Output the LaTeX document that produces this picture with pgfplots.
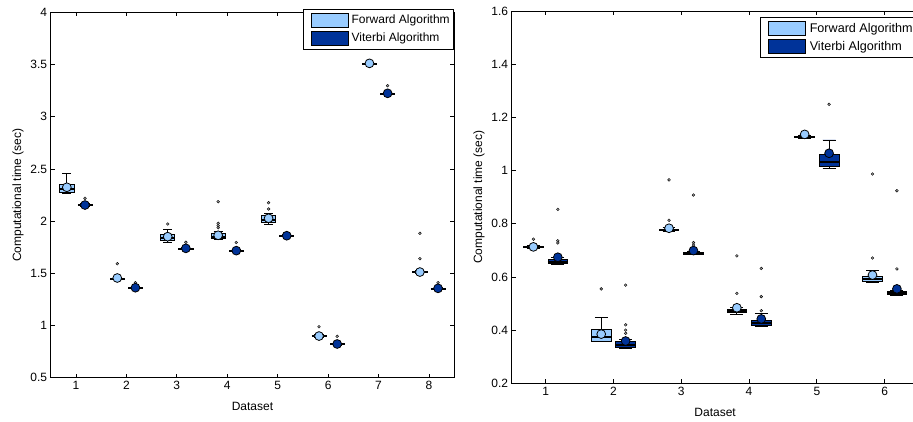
\documentclass[border=0pt]{standalone}
\usepackage{fontspec}
\setmainfont{Liberation Sans}
\usepackage{pgfplots}
\pgfplotsset{compat=1.18}
\usepgfplotslibrary{statistics}

\definecolor{fwd}{RGB}{153,204,255}
\definecolor{vit}{RGB}{0,51,153}
\definecolor{outc}{RGB}{160,160,160}

% #1 position, #2..#6 lower whisker, q1, median, q3, upper whisker, #7 fill
\newcommand{\bx}[7]{%
  \addplot[forget plot, fill=#7, boxplot prepared={draw direction=y,
    draw position=#1,
    lower whisker=#2, lower quartile=#3, median=#4,
    upper quartile=#5, upper whisker=#6}] coordinates {};}

\pgfplotsset{
  hmm/.style={
    scale only axis, anchor=south west,
    font=\fontsize{12}{14}\selectfont,
    /pgf/number format/assume math mode=true,
    axis line style={line width=1pt},
    tick style={line width=0.8pt, black},
    tick align=inside, major tick length=4pt,
    xlabel={Dataset}, ylabel={Computational time (sec)},
    xlabel style={yshift=-6pt},
    boxplot/draw direction=y,
    boxplot/every box/.style={draw=black, line width=0.8pt},
    boxplot/every median/.style={draw=black, line width=1.8pt},
    boxplot/every whisker/.style={draw=black, line width=0.8pt},
    legend cell align=left,
    legend style={anchor=north east, draw=black, line width=0.8pt,
      inner xsep=1.5pt, inner ysep=3pt, row sep=3pt,
      nodes={inner xsep=2.6pt, inner ysep=2pt},
      font=\fontsize{12}{14}\selectfont},
  },
  meanF/.style={forget plot, only marks, mark=*, mark size=4.4pt,
    mark options={fill=fwd, draw=black, line width=0.8pt}},
  meanV/.style={forget plot, only marks, mark=*, mark size=4.4pt,
    mark options={fill=vit, draw=black, line width=0.8pt}},
  outl/.style={forget plot, only marks, mark=*, mark size=1.4pt,
    mark options={fill=outc, draw=none}},
  legF/.style={legend image code/.code={\path (0pt,-7pt) (0pt,7pt);
    \draw[fill=fwd, draw=black, line width=0.8pt] (5.8pt,-7.15pt) rectangle (43.1pt,7.15pt);}},
  legV/.style={legend image code/.code={\path (0pt,-7pt) (0pt,7pt);
    \draw[fill=vit, draw=black, line width=0.8pt] (5.8pt,-7.15pt) rectangle (43.1pt,7.15pt);}},
}

\begin{document}
\begin{tikzpicture}
\useasboundingbox (0,0) rectangle (913pt,421pt);
\clip (0,0) rectangle (913pt,421pt);

% ---------- left panel ----------
\begin{axis}[hmm,
    at={(50.7pt,43.3pt)}, width=403.5pt, height=365.4pt,
    xmin=0.5, xmax=8.5, ymin=0.5, ymax=4,
    xtick={1,2,3,4,5,6,7,8},
    ytick={0.5,1,1.5,2,2.5,3,3.5,4},
    boxplot/box extend=0.28, boxplot/whisker extend=0.18,
    legend style={at={(1,1)}, yshift=3pt},
]
% Forward
\bx{0.82}{2.262}{2.279}{2.305}{2.355}{2.458}{fwd}
\bx{1.82}{1.440}{1.445}{1.450}{1.455}{1.462}{fwd}
\bx{2.82}{1.800}{1.812}{1.840}{1.876}{1.924}{fwd}
\bx{3.82}{1.825}{1.835}{1.850}{1.878}{1.905}{fwd}
\bx{4.82}{1.970}{1.985}{2.010}{2.050}{2.070}{fwd}
\bx{5.82}{0.890}{0.893}{0.897}{0.902}{0.910}{fwd}
\bx{6.82}{3.500}{3.505}{3.510}{3.515}{3.520}{fwd}
\bx{7.82}{1.500}{1.505}{1.510}{1.515}{1.525}{fwd}
% Viterbi
\bx{1.18}{2.142}{2.148}{2.152}{2.158}{2.165}{vit}
\bx{2.18}{1.352}{1.356}{1.360}{1.364}{1.370}{vit}
\bx{3.18}{1.728}{1.733}{1.737}{1.742}{1.748}{vit}
\bx{4.18}{1.708}{1.712}{1.716}{1.720}{1.728}{vit}
\bx{5.18}{1.850}{1.855}{1.859}{1.863}{1.868}{vit}
\bx{6.18}{0.812}{0.818}{0.822}{0.826}{0.832}{vit}
\bx{7.18}{3.214}{3.218}{3.222}{3.226}{3.232}{vit}
\bx{8.18}{1.345}{1.350}{1.354}{1.358}{1.364}{vit}
% outliers
\addplot[outl] coordinates {
  (1.82,1.592) (2.82,1.972)
  (3.82,1.937) (3.82,1.956) (3.82,1.979) (3.82,2.186)
  (4.82,2.116) (4.82,2.176) (5.82,0.988)
  (7.82,1.640) (7.82,1.883)
  (1.18,2.218) (2.18,1.410) (3.18,1.797) (4.18,1.795)
  (6.18,0.896) (7.18,3.297) (8.18,1.410)
};
% means
\addplot[meanF] coordinates {
  (0.82,2.324) (1.82,1.455) (2.82,1.851) (3.82,1.864)
  (4.82,2.027) (5.82,0.899) (6.82,3.511) (7.82,1.512)
};
\addplot[meanV] coordinates {
  (1.18,2.154) (2.18,1.362) (3.18,1.739) (4.18,1.717)
  (5.18,1.860) (6.18,0.823) (7.18,3.224) (8.18,1.356)
};
\addlegendimage{legF}
\addlegendentry{Forward Algorithm}
\addlegendimage{legV}
\addlegendentry{Viterbi Algorithm}
\end{axis}

% ---------- right panel ----------
\begin{axis}[hmm,
    at={(511.7pt,37.7pt)}, width=406.9pt, height=372.3pt,
    xmin=0.5, xmax=6.5, ymin=0.2, ymax=1.6,
    xtick={1,2,3,4,5,6},
    ytick={0.2,0.4,0.6,0.8,1,1.2,1.4,1.6},
    boxplot/box extend=0.29, boxplot/whisker extend=0.19,
    legend style={at={(1,1)}, yshift=-6.3pt,
      font=\fontsize{12.6}{14.5}\selectfont, nodes={inner xsep=4pt}},
]
% Forward
\bx{0.82}{0.708}{0.710}{0.713}{0.716}{0.720}{fwd}
\bx{1.82}{0.357}{0.359}{0.373}{0.403}{0.446}{fwd}
\bx{2.82}{0.772}{0.775}{0.777}{0.780}{0.785}{fwd}
\bx{3.82}{0.460}{0.466}{0.472}{0.479}{0.485}{fwd}
\bx{4.82}{1.122}{1.125}{1.127}{1.129}{1.132}{fwd}
\bx{5.82}{0.578}{0.582}{0.592}{0.601}{0.623}{fwd}
% Viterbi
\bx{1.18}{0.648}{0.651}{0.657}{0.666}{0.672}{vit}
\bx{2.18}{0.333}{0.335}{0.345}{0.359}{0.365}{vit}
\bx{3.18}{0.684}{0.686}{0.689}{0.692}{0.696}{vit}
\bx{4.18}{0.413}{0.419}{0.428}{0.438}{0.463}{vit}
\bx{5.18}{1.009}{1.015}{1.033}{1.059}{1.115}{vit}
\bx{6.18}{0.532}{0.535}{0.540}{0.545}{0.550}{vit}
% outliers
\addplot[outl] coordinates {
  (0.82,0.742) (1.82,0.555) (2.82,0.813) (2.82,0.965)
  (3.82,0.538) (3.82,0.679) (5.82,0.671) (5.82,0.987)
  (1.18,0.728) (1.18,0.736) (1.18,0.854)
  (2.18,0.388) (2.18,0.400) (2.18,0.420) (2.18,0.569)
  (3.18,0.720) (3.18,0.729) (3.18,0.908)
  (4.18,0.473) (4.18,0.526) (4.18,0.632)
  (5.18,1.249) (6.18,0.630) (6.18,0.924)
};
% means
\addplot[meanF] coordinates {
  (0.82,0.713) (1.82,0.385) (2.82,0.783)
  (3.82,0.484) (4.82,1.136) (5.82,0.607)
};
\addplot[meanV] coordinates {
  (1.18,0.674) (2.18,0.359) (3.18,0.699)
  (4.18,0.442) (5.18,1.065) (6.18,0.555)
};
\addlegendimage{legF}
\addlegendentry{Forward Algorithm}
\addlegendimage{legV}
\addlegendentry{Viterbi Algorithm}
\end{axis}
\end{tikzpicture}
\end{document}
